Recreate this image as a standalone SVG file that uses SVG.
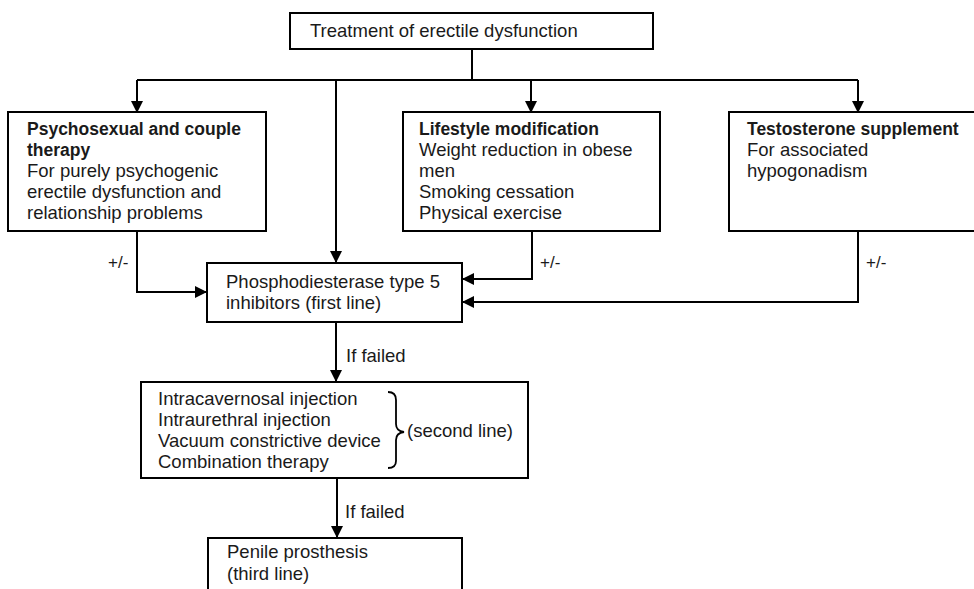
<svg xmlns="http://www.w3.org/2000/svg" width="974" height="589" viewBox="0 0 974 589">
<defs>
<marker id="ah" viewBox="0 0 12 12" refX="12" refY="6" markerWidth="12" markerHeight="12" markerUnits="userSpaceOnUse" orient="auto">
<path d="M0,0 L12,6 L0,12 Z" fill="#000"/>
</marker>
<style>
.box{fill:#fff;stroke:#000;stroke-width:2}
.t{font-family:"Liberation Sans",Arial,sans-serif;font-size:18.5px;fill:#1a1a1a}
.b{font-weight:bold;font-size:17.5px}
.s{font-family:"Liberation Sans",Arial,sans-serif;font-size:17px;fill:#1a1a1a}
.ln{fill:none;stroke:#000;stroke-width:2}
</style>
</defs>
<rect width="974" height="589" fill="#fff"/>
<g id="connectors">
<path class="ln" d="M472,49 V80"/>
<path class="ln" d="M137,80 H858"/>
<path class="ln" d="M137,80 V113" marker-end="url(#ah)"/>
<path class="ln" d="M531,80 V113" marker-end="url(#ah)"/>
<path class="ln" d="M858,80 V113" marker-end="url(#ah)"/>
<path class="ln" d="M336,80 V263" marker-end="url(#ah)"/>
<path class="ln" d="M137,231 V292 H207" marker-end="url(#ah)"/>
<path class="ln" d="M532,231 V279 H462" marker-end="url(#ah)"/>
<path class="ln" d="M858,231 V302 H462" marker-end="url(#ah)"/>
<path class="ln" d="M336,322 V382" marker-end="url(#ah)"/>
<path class="ln" d="M337,478 V538" marker-end="url(#ah)"/>
<text class="s" x="108" y="268">+/-</text>
<text class="s" x="540" y="268">+/-</text>
<text class="s" x="866" y="268">+/-</text>
<text class="t" x="346" y="362">If failed</text>
<text class="t" x="345" y="518">If failed</text>
</g>
<g id="top">
<rect class="box" x="290" y="13" width="363" height="36"/>
<text class="t" x="310" y="37">Treatment of erectile dysfunction</text>
</g>
<g id="psychosexual">
<rect class="box" x="8" y="112" width="258" height="119"/>
<text class="t" x="27"><tspan class="b" x="27" y="135">Psychosexual and couple</tspan><tspan class="b" x="27" y="156">therapy</tspan><tspan x="27" y="177">For purely psychogenic</tspan><tspan x="27" y="198">erectile dysfunction and</tspan><tspan x="27" y="219">relationship problems</tspan></text>
</g>
<g id="lifestyle">
<rect class="box" x="403" y="112" width="257" height="119"/>
<text class="t"><tspan class="b" x="419" y="135">Lifestyle modification</tspan><tspan x="419" y="156">Weight reduction in obese</tspan><tspan x="419" y="177">men</tspan><tspan x="419" y="198">Smoking cessation</tspan><tspan x="419" y="219">Physical exercise</tspan></text>
</g>
<g id="testosterone">
<rect class="box" x="729" y="112" width="260" height="119"/>
<text class="t"><tspan class="b" x="747" y="135">Testosterone supplement</tspan><tspan x="747" y="156">For associated</tspan><tspan x="747" y="177">hypogonadism</tspan></text>
</g>
<g id="pde5">
<rect class="box" x="207" y="263" width="255" height="59"/>
<text class="t"><tspan x="226" y="288">Phosphodiesterase type 5</tspan><tspan x="226" y="309">inhibitors (first line)</tspan></text>
</g>
<g id="second">
<rect class="box" x="141" y="382" width="387" height="96"/>
<text class="t"><tspan x="158" y="405">Intracavernosal injection</tspan><tspan x="158" y="426">Intraurethral injection</tspan><tspan x="158" y="447">Vacuum constrictive device</tspan><tspan x="158" y="468">Combination therapy</tspan></text>
<path d="M388,392 Q396,392 396,400 V424 Q396,431 404,432 Q396,433 396,440 V461 Q396,468 388,468" fill="none" stroke="#000" stroke-width="1.8"/>
<text class="t" x="407" y="437">(second line)</text>
</g>
<g id="third">
<rect class="box" x="208" y="538" width="254" height="60"/>
<text class="t"><tspan x="227" y="558">Penile prosthesis</tspan><tspan x="227" y="580">(third line)</tspan></text>
</g>
</svg>
